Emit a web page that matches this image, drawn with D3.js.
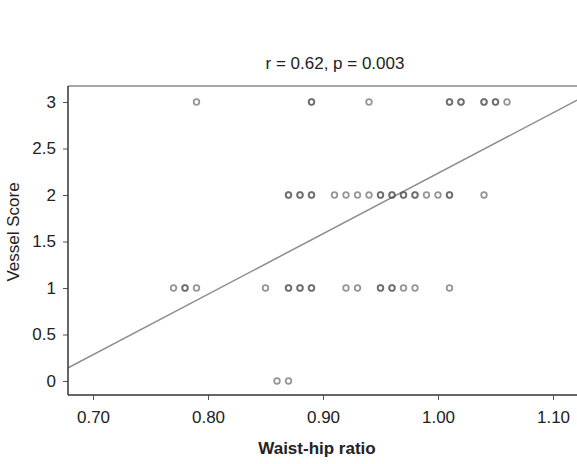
<!DOCTYPE html>
<html>
<head>
<meta charset="utf-8">
<script src="https://cdn.jsdelivr.net/npm/d3@7"></script>
<style>
  html, body { margin: 0; padding: 0; background: #fff; }
  svg { display: block; font-family: "Liberation Sans", Arial, sans-serif; }
</style>
</head>
<body>
<svg id="chart" width="577" height="464"></svg>
<script>
// ---- data ----
const score3 = [0.79, 0.89, 0.89, 0.94, 1.01, 1.01, 1.02, 1.02, 1.04, 1.04, 1.05, 1.05, 1.06];
const score2 = [0.87, 0.87, 0.88, 0.88, 0.89, 0.89, 0.91, 0.92, 0.93, 0.94, 0.95, 0.95, 0.96, 0.96,
                0.97, 0.97, 0.98, 0.98, 0.99, 1.00, 1.01, 1.01, 1.04];
const score1 = [0.77, 0.78, 0.78, 0.79, 0.85, 0.87, 0.87, 0.88, 0.88, 0.89, 0.89, 0.92, 0.93,
                0.95, 0.95, 0.96, 0.96, 0.97, 0.98, 1.01];
const score0 = [0.86, 0.87];
const scoreLevels = [3, 2, 1, 0];
const fitLine = [[0.678, 0.14], [1.121, 3.02]]; // regression line end points
const xTicks = [0.70, 0.80, 0.90, 1.00, 1.10];
const yTicks = [0, 0.5, 1, 1.5, 2, 2.5, 3];
const titleText = "r = 0.62, p = 0.003";
const xTitle = "Waist-hip ratio";
const yTitle = "Vessel Score";

const points = [];
[score3, score2, score1, score0].forEach((arr, i) => arr.forEach(v => points.push({ x: v, y: scoreLevels[i] })));

// ---- layout ----
const svg = d3.select("#chart");
const pLeft = 68, pTop = 86, pRight = 600, pBottom = 395;
const FS = 17;

const x = d3.scaleLinear().domain([0.70, 1.10]).range([93, 553]);
const y = d3.scaleLinear().domain([0, 3]).range([381, 102]);

// frame (top line)
svg.append("line").attr("x1", pLeft).attr("x2", pRight).attr("y1", pTop).attr("y2", pTop)
  .attr("stroke", "#8a8a8a").attr("stroke-width", 1.5);

// clip for plot
svg.append("clipPath").attr("id", "clip").append("rect")
  .attr("x", pLeft).attr("y", pTop).attr("width", pRight - pLeft).attr("height", pBottom - pTop);

// regression line
svg.append("line")
  .attr("clip-path", "url(#clip)")
  .attr("x1", x(fitLine[0][0])).attr("y1", y(fitLine[0][1]))
  .attr("x2", x(fitLine[1][0])).attr("y2", y(fitLine[1][1]))
  .attr("stroke", "#8c8c8c").attr("stroke-width", 1.5);

// points
svg.append("g").selectAll("circle").data(points).join("circle")
  .attr("cx", d => x(d.x)).attr("cy", d => y(d.y)).attr("r", 2.8)
  .attr("fill", "none").attr("stroke", "#555").attr("stroke-opacity", 0.62).attr("stroke-width", 1.8);

// axes
const xAxis = d3.axisBottom(x).tickValues(xTicks).tickFormat(d3.format(".2f")).tickSizeOuter(0).tickSize(5).tickPadding(11);
const gx = svg.append("g").attr("transform", `translate(0,${pBottom})`).call(xAxis);
gx.select(".domain").remove();
gx.append("line").attr("x1", pLeft).attr("x2", pRight).attr("y1", 0).attr("y2", 0).attr("stroke", "#333").attr("stroke-width", 1.5);
gx.selectAll(".tick line").attr("stroke", "#555");
gx.selectAll("text").attr("font-size", FS).attr("fill", "#222").attr("font-family", "Liberation Sans, Arial, sans-serif");

const yAxis = d3.axisLeft(y).tickValues(yTicks).tickFormat(d3.format("")).tickSizeOuter(0).tickSize(5).tickPadding(7);
const gy = svg.append("g").attr("transform", `translate(${pLeft},0)`).call(yAxis);
gy.select(".domain").remove();
gy.append("line").attr("x1", 0).attr("x2", 0).attr("y1", pTop).attr("y2", pBottom).attr("stroke", "#333").attr("stroke-width", 1.5);
gy.selectAll(".tick line").attr("stroke", "#555");
gy.selectAll("text").attr("font-size", FS).attr("fill", "#222").attr("font-family", "Liberation Sans, Arial, sans-serif");

// titles
svg.append("text").attr("x", 335).attr("y", 69).attr("text-anchor", "middle")
  .attr("font-size", FS).attr("fill", "#222").text(titleText);
svg.append("text").attr("x", 317).attr("y", 454).attr("text-anchor", "middle")
  .attr("font-size", FS).attr("font-weight", "bold").attr("fill", "#222").text(xTitle);
svg.append("text").attr("transform", `translate(19,232) rotate(-90)`).attr("text-anchor", "middle")
  .attr("font-size", FS).attr("fill", "#222").text(yTitle);
</script>
</body>
</html>
